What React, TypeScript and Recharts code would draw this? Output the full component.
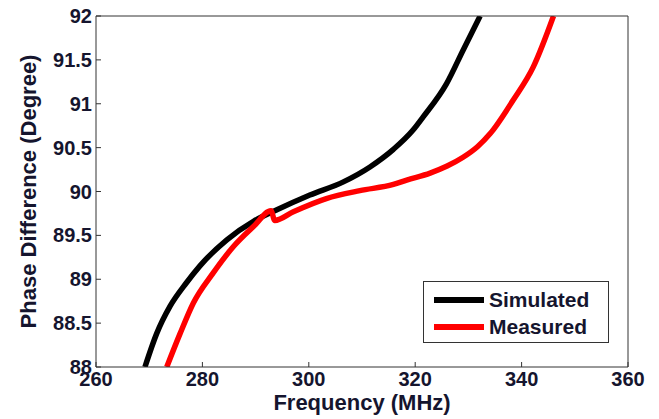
import React from "react";
import { LineChart, Line, XAxis, YAxis, Legend } from "recharts";

// Simulated (black) curve
const simFreq = [269.2, 271.4, 273.9, 277.0, 279.5, 284.6, 289.6, 293.6, 300.2, 306.5, 311.5, 315.9, 319.6, 321.5, 325.9, 329.0, 332.2];
const simPhase = [88.0, 88.38, 88.69, 88.96, 89.15, 89.45, 89.66, 89.78, 89.96, 90.11, 90.28, 90.48, 90.7, 90.85, 91.23, 91.61, 92.0];

// Measured (red) curve, with the small glitch near 293 MHz
const measFreq = [273.3, 275.8, 278.3, 282.0, 285.8, 289.6, 292.9, 293.6, 297.1, 303.3, 309.6, 315.9, 318.4, 322.8, 326.0, 329.0, 331.7, 334.1, 338.4, 342.2, 346.0];
const measPhase = [88.0, 88.38, 88.73, 89.07, 89.37, 89.6, 89.78, 89.67, 89.77, 89.92, 90.01, 90.08, 90.13, 90.21, 90.29, 90.39, 90.51, 90.66, 91.04, 91.42, 92.0];

const xTicks = [260, 280, 300, 320, 340, 360];
const yTicks = [88, 88.5, 89, 89.5, 90, 90.5, 91, 91.5, 92];

const simData = simFreq.map((f, i) => ({ f, v: simPhase[i] }));
const measData = measFreq.map((f, i) => ({ f, v: measPhase[i] }));

const FONT = "'Liberation Sans', Arial, sans-serif";
const TEXT = "#15152e";
const AXIS = "#333";

const tickStyle = { fontFamily: FONT, fontSize: 20, fontWeight: "bold", fill: TEXT };

const renderLegend = () => (
  <div
    style={{
      boxSizing: "border-box",
      width: 186,
      height: 62,
      border: "1px solid #333",
      background: "#fff",
      fontFamily: FONT,
      fontWeight: "bold",
      fontSize: 21,
      color: TEXT,
      padding: "4px 0 0 10px",
    }}
  >
    {[
      { name: "Simulated", color: "#000" },
      { name: "Measured", color: "#ff0000" },
    ].map((s) => (
      <div key={s.name} style={{ display: "flex", alignItems: "center", height: 27 }}>
        <span style={{ display: "inline-block", width: 50, height: 6, background: s.color, marginRight: 5 }} />
        <span>{s.name}</span>
      </div>
    ))}
  </div>
);

export default function App() {
  return (
    <div style={{ position: "absolute", left: 0, top: 0, background: "#fff" }}>
      <LineChart width={659} height={419} margin={{ top: 15, right: 30, bottom: 0, left: 0 }}>
        <XAxis
          dataKey="f"
          type="number"
          domain={[260, 360]}
          ticks={xTicks}
          allowDataOverflow
          height={52}
          stroke={AXIS}
          tickSize={-5}
          tickMargin={10}
          tick={tickStyle}
          label={{
            value: "Frequency (MHz)",
            position: "insideBottom",
            offset: 9,
            style: { fontFamily: FONT, fontSize: 22, fontWeight: "bold", fill: TEXT },
          }}
        />
        <XAxis
          xAxisId="top"
          orientation="top"
          dataKey="f"
          type="number"
          domain={[260, 360]}
          ticks={xTicks}
          height={1}
          stroke={AXIS}
          tickSize={-5}
          tickFormatter={() => ""}
        />
        <YAxis
          type="number"
          domain={[88, 92]}
          ticks={yTicks}
          allowDataOverflow
          width={96}
          stroke={AXIS}
          tickSize={-5}
          tickMargin={9}
          tick={tickStyle}
          label={({ viewBox }: any) => (
            <text
              x={28}
              y={viewBox.y + viewBox.height / 2}
              transform={`rotate(-90, 28, ${viewBox.y + viewBox.height / 2})`}
              textAnchor="middle"
              dominantBaseline="central"
              style={{ fontFamily: FONT, fontSize: 22, fontWeight: "bold", fill: TEXT }}
            >
              Phase Difference (Degree)
            </text>
          )}
        />
        <YAxis
          yAxisId="right"
          orientation="right"
          type="number"
          domain={[88, 92]}
          ticks={yTicks}
          width={1}
          stroke={AXIS}
          tickSize={-5}
          tickFormatter={() => ""}
        />
        <Line
          data={simData}
          dataKey="v"
          name="Simulated"
          type="monotone"
          stroke="#000"
          strokeWidth={5.5}
          dot={false}
          isAnimationActive={false}
        />
        <Line
          data={measData}
          dataKey="v"
          name="Measured"
          type="monotone"
          stroke="#ff0000"
          strokeWidth={5.5}
          dot={false}
          isAnimationActive={false}
        />
        <Legend
          layout="vertical"
          align="center"
          verticalAlign="middle"
          content={renderLegend}
          wrapperStyle={{ left: 423, top: 281, width: 186, height: 62 }}
        />
      </LineChart>
    </div>
  );
}
